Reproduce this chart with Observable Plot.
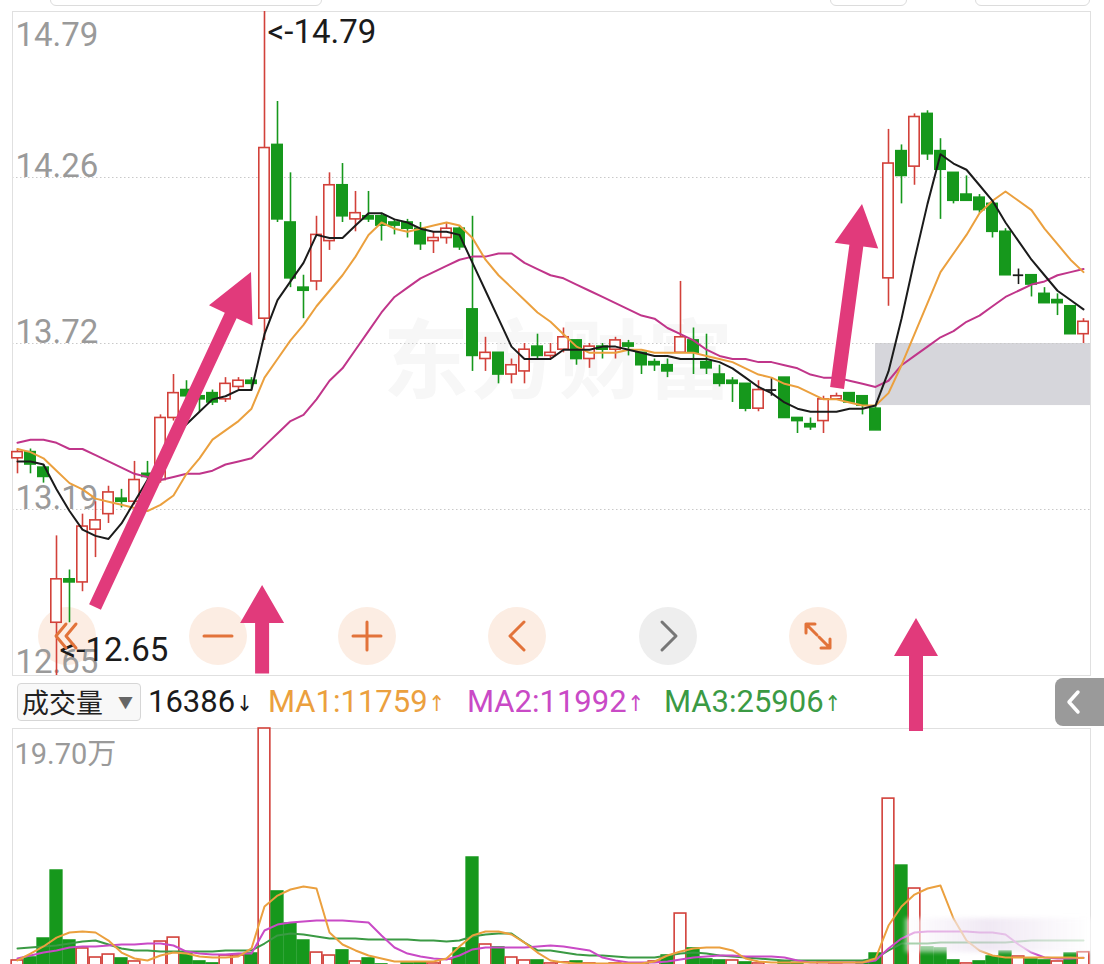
<!DOCTYPE html>
<html><head><meta charset="utf-8">
<script src="https://cdn.jsdelivr.net/npm/d3@7"></script>
<script src="https://cdn.jsdelivr.net/npm/@observablehq/plot@0.6"></script>
<style>
html,body{margin:0;padding:0;background:#fff;}
body{width:1104px;height:964px;overflow:hidden;position:relative;font-family:Roboto,"Noto Sans CJK SC",sans-serif;}
.abs{position:absolute;}
#watermark{left:383px;top:292px;font-family:"Noto Sans CJK SC";font-weight:700;font-size:86px;color:#f7f7f7;letter-spacing:2px;white-space:nowrap;z-index:0;}
#ui{left:0;top:0;z-index:1;}
#price{left:0;top:0;z-index:2;}
#volume{left:0;top:728px;z-index:2;}
#overlay{left:0;top:0;z-index:5;pointer-events:none;}
#header{left:0;top:676px;width:1104px;height:52px;z-index:3;}
.hd{position:absolute;top:7px;font-size:31px;line-height:38px;white-space:nowrap;font-family:Roboto,"Noto Sans CJK SC",sans-serif;}
.hd .ar{font-size:22px;font-family:"DejaVu Sans Condensed","DejaVu Sans";position:relative;top:-1px;margin-left:1px;}
#selbox{position:absolute;left:17px;top:7px;width:124px;height:38px;border:1px solid #d6d6d6;border-radius:4px;background:#f8f8f8;box-sizing:border-box;}
#selbox span.t{position:absolute;left:4px;top:0px;font-family:"Noto Sans CJK SC";font-size:27px;line-height:36px;color:#222;}
#selbox span.a{position:absolute;right:7px;top:1px;font-size:15px;line-height:36px;color:#666;}
#tab{position:absolute;left:1055px;top:2px;width:60px;height:48px;background:#9a9a9a;border-radius:8px;}
.topbtn{position:absolute;top:-26px;height:30px;border:1px solid #dcdcdc;border-radius:6px;background:#fff;}
#blur{left:905px;top:918px;width:186px;height:34px;z-index:4;background:linear-gradient(90deg,rgba(255,255,255,0.55),rgba(235,225,240,0.75) 45%,rgba(255,255,255,0.8));filter:blur(2px);}
</style></head>
<body>
<div class="topbtn" style="left:50px;width:270px"></div>
<div class="topbtn" style="left:830px;width:75px"></div>
<div class="topbtn" style="left:975px;width:113px"></div>
<div id="watermark" class="abs">东方财富</div>
<svg id="ui" class="abs" width="1104" height="964"></svg>
<div id="price" class="abs"></div>
<div id="header" class="abs"></div>
<div id="volume" class="abs"></div>
<div id="blur" class="abs"></div>
<svg id="overlay" class="abs" width="1104" height="964"></svg>
<script>
// ---------- data ----------
const opens = [13.35,13.37,13.32,12.82,12.96,12.95,13.12,13.17,13.22,13.21,
13.30,13.28,13.48,13.57,13.55,13.56,13.54,13.58,13.60,13.80,
14.36,14.11,13.90,13.92,14.05,14.23,14.12,14.13,14.13,14.11,
14.11,14.09,14.05,14.06,14.09,13.83,13.67,13.69,13.62,13.63,
13.71,13.68,13.70,13.73,13.67,13.71,13.70,13.72,13.69,13.66,
13.65,13.69,13.73,13.66,13.62,13.60,13.59,13.51,13.57,13.61,
13.48,13.46,13.47,13.54,13.56,13.55,13.51,13.93,14.34,14.29,
14.46,14.34,14.27,14.20,14.19,14.17,14.08,13.94,13.94,13.88,
13.86,13.84,13.75];
const highs = [13.38,13.38,13.33,13.10,12.99,13.17,13.21,13.26,13.25,13.34,
13.34,13.49,13.62,13.60,13.57,13.57,13.61,13.61,13.61,14.79,
14.50,14.27,13.94,14.13,14.27,14.30,14.21,14.21,14.14,14.12,
14.12,14.11,14.08,14.11,14.10,14.13,13.74,13.69,13.67,13.72,
13.75,13.72,13.77,13.73,13.72,13.72,13.74,13.73,13.69,13.67,
13.67,13.92,13.77,13.75,13.65,13.61,13.59,13.60,13.61,13.61,
13.48,13.48,13.55,13.56,13.56,13.55,13.52,14.41,14.36,14.46,
14.47,14.38,14.27,14.26,14.20,14.18,14.09,13.96,13.94,13.90,
13.88,13.84,13.80];
const lows = [13.30,13.30,13.27,12.65,12.82,12.92,13.03,13.14,13.19,13.20,
13.28,13.27,13.47,13.53,13.50,13.52,13.53,13.57,13.57,13.73,
14.11,13.90,13.80,13.89,14.02,14.11,14.08,14.11,14.05,14.07,
14.06,14.02,14.01,14.04,14.02,13.63,13.63,13.59,13.59,13.59,
13.67,13.67,13.69,13.65,13.64,13.67,13.67,13.68,13.62,13.63,
13.61,13.69,13.62,13.62,13.58,13.53,13.50,13.50,13.55,13.48,
13.43,13.44,13.43,13.54,13.53,13.49,13.44,13.84,14.17,14.23,
14.31,14.12,14.17,14.18,14.14,14.06,13.94,13.91,13.87,13.85,
13.81,13.75,13.72];
const closes = [13.37,13.33,13.29,12.96,12.95,13.13,13.15,13.24,13.21,13.28,
13.29,13.48,13.56,13.55,13.54,13.53,13.59,13.60,13.59,14.35,
14.12,13.93,13.89,14.07,14.23,14.13,14.14,14.12,14.10,14.10,
14.09,14.04,14.06,14.09,14.03,13.68,13.69,13.62,13.65,13.70,
13.68,13.69,13.74,13.67,13.71,13.70,13.73,13.71,13.65,13.65,
13.63,13.74,13.69,13.64,13.59,13.59,13.51,13.57,13.57,13.48,
13.47,13.45,13.54,13.55,13.53,13.52,13.44,14.30,14.26,14.45,
14.33,14.28,14.18,14.18,14.15,14.08,13.94,13.94,13.91,13.85,
13.85,13.75,13.79];
const ma5 = [13.34,13.34,13.33,13.25,13.18,13.12,13.10,13.09,13.14,13.21,
13.28,13.34,13.41,13.46,13.50,13.54,13.55,13.57,13.57,13.75,
13.86,13.92,13.98,14.07,14.06,14.06,14.10,14.14,14.14,14.12,
14.11,14.09,14.08,14.08,14.07,13.98,13.89,13.80,13.71,13.67,
13.67,13.67,13.70,13.70,13.70,13.71,13.71,13.70,13.69,13.68,
13.68,13.67,13.67,13.67,13.66,13.64,13.61,13.58,13.56,13.53,
13.51,13.50,13.50,13.50,13.51,13.51,13.52,13.63,13.80,13.99,
14.17,14.33,14.30,14.28,14.23,14.18,14.11,14.05,13.99,13.94,
13.89,13.86,13.83];
const ma10 = [13.38,13.37,13.35,13.31,13.27,13.25,13.22,13.21,13.20,13.19,
13.18,13.20,13.23,13.30,13.35,13.41,13.44,13.47,13.51,13.61,
13.67,13.73,13.78,13.84,13.89,13.94,14.00,14.07,14.11,14.09,
14.08,14.09,14.10,14.11,14.10,14.06,13.99,13.94,13.90,13.86,
13.82,13.79,13.75,13.71,13.69,13.69,13.69,13.70,13.70,13.69,
13.69,13.69,13.69,13.68,13.67,13.66,13.64,13.62,13.61,13.59,
13.58,13.56,13.54,13.54,13.53,13.52,13.52,13.56,13.65,13.75,
13.85,13.95,14.01,14.07,14.14,14.18,14.21,14.18,14.15,14.09,
14.04,13.99,13.95];
const ma20 = [13.40,13.41,13.41,13.40,13.38,13.38,13.36,13.34,13.32,13.30,
13.29,13.28,13.29,13.30,13.30,13.31,13.33,13.34,13.35,13.39,
13.43,13.47,13.49,13.54,13.60,13.64,13.70,13.76,13.82,13.87,
13.90,13.93,13.95,13.97,13.99,14.00,14.00,14.01,14.01,13.98,
13.96,13.94,13.93,13.91,13.89,13.87,13.85,13.83,13.81,13.80,
13.77,13.75,13.73,13.70,13.68,13.67,13.67,13.66,13.66,13.65,
13.64,13.62,13.61,13.61,13.60,13.59,13.58,13.60,13.65,13.68,
13.71,13.74,13.76,13.79,13.81,13.84,13.87,13.89,13.91,13.92,
13.94,13.95,13.96];
const volumes = [9700,12100,27400,82300,25800,19400,12100,14500,11300,8900,
5600,25000,28200,15300,8900,7300,13700,13700,15300,197000,
65400,39500,25800,16100,13700,17800,8900,11300,6500,5600,
7300,8100,7300,10500,19400,92800,22600,20200,12100,9700,
9700,7300,8100,8900,7300,5600,7300,6500,7300,8900,
13700,47600,19400,10500,9700,9700,8100,7300,5600,8900,
7300,5600,8100,6500,5600,8100,15300,140400,86300,67800,
20200,19400,9700,7300,8900,12900,16900,12900,10500,9700,
8900,15300,16386];
const volMA1 = [9700,15300,21000,28200,32300,33100,32300,25800,16100,11300,
9700,13700,16100,15300,12900,12100,12100,12900,19400,53300,
62100,67000,69400,67800,32300,22600,17800,13700,11300,8900,
8900,8900,8900,11300,21000,29900,33100,33100,30700,24200,
16100,9700,8100,7300,7300,7300,7300,7300,7300,8900,
13700,16900,19400,20200,20200,17800,11300,8900,8100,8100,
8100,8100,8100,8100,8100,8100,11300,37900,53300,62900,
67800,70200,43600,25800,17800,13700,12100,12100,12100,12100,
12100,12100,11759];
const volMA2 = [11300,13700,16100,17800,20200,21000,21000,21800,22600,22600,
23400,23400,21800,16900,15300,14500,14500,15300,15300,33900,
38700,40400,41200,42000,42000,42000,41200,40400,29900,20200,
15300,12900,11300,10500,13700,18600,20200,20200,20200,20200,
21000,21800,21000,19400,17800,12100,9700,8100,8100,8100,
8900,10500,12100,12900,13700,13700,12900,12900,12900,12100,
9700,8100,8100,8100,8100,8100,9700,19400,27400,32300,
33100,33100,33100,33100,32300,32300,30700,22600,16100,12100,
11300,11300,11992];
const volMA3 = [19400,20200,21000,21800,23400,25000,25800,22600,19400,17800,
17800,16900,16900,16900,16900,16900,17800,17800,17800,23400,
29900,31500,30700,29100,27400,27400,27400,26600,26600,26600,
26600,25800,25800,25000,25800,29100,30700,31500,31500,24200,
17800,17800,16100,14500,13700,13700,12900,12100,12100,12100,
13700,15300,16100,15300,13700,12900,12100,11300,10500,9700,
9700,9700,9700,9700,9700,9700,11300,17800,23400,23400,
23400,24200,24200,24200,24200,24200,24200,25000,25800,25800,
25800,25800,25906];
const priceTicks = [14.79, 14.255, 13.72, 13.185, 12.65];
const priceTickLabels = ["14.79", "14.26", "13.72", "13.19", "12.65"];
const volumeTop = 197000;
const headerArrows = ["↓", "↑", "↑", "↑"];
const gapBox = {from: 66, low: 13.52, high: 13.72};
// annotation arrows in data coordinates [index, price]
const arrows = [
  {tail: [6.0, 12.869], tip: [18.0, 13.949], w: 13, L: 48, hw: 24},
  {tail: [18.85, 12.655], tip: [18.85, 12.94], w: 14, L: 38, hw: 22},
  {tail: [63.08, 13.575], tip: [65.0, 14.168], w: 14, L: 42, hw: 22},
  {tail: [69.15, 12.47], tip: [69.15, 12.834], w: 14, L: 38, hw: 22}
];

// ---------- styles ----------
const RED = "#d2413a", GREEN = "#16981c", BLACK = "#1b1b1b";
const C_MA5 = "#1b1b1b", C_MA10 = "#eba03e", C_MA20 = "#c0358a";
const C_V1 = "#eba03e", C_V2 = "#c94ac6", C_V3 = "#3b9a44";

const N = closes.length;
const idx = d3.range(N);
const xDomain = [-5/13, (N - 1) + 7/13];
const candles = idx.map(i => ({i, o: opens[i], h: highs[i], l: lows[i], c: closes[i]}));
const colorOf = d => d.c > d.o ? RED : d.c < d.o ? GREEN : BLACK;
const maSeries = (arr) => arr.map((v, i) => ({i, v}));

const hiIdx = d3.maxIndex(highs), loIdx = d3.minIndex(lows);
const tickData = priceTicks.map((v, k) => ({v, label: priceTickLabels[k], k}));

const price = Plot.plot({
  width: 1104, height: 680,
  marginLeft: 12, marginRight: 14, marginTop: 11, marginBottom: 5,
  x: {domain: xDomain, axis: null},
  y: {domain: [priceTicks[priceTicks.length-1], priceTicks[0]], axis: null},
  color: {type: "identity"},
  style: {background: "transparent", overflow: "visible", fontFamily: "Roboto"},
  marks: [
    Plot.rect([gapBox], {x1: "from", x2: () => xDomain[1], y1: "low", y2: "high", fill: "#d6d6db"}),
    Plot.ruleY(priceTicks.slice(1, -1), {stroke: "#c9c9c9", strokeDasharray: "1.5,2.5"}),
    Plot.frame({stroke: "#e0e0e0"}),
    Plot.text(tickData.filter(d => d.k === 0), {y: "v", text: "label", frameAnchor: "left", dx: 3, dy: 11, textAnchor: "start", lineAnchor: "top", fontSize: 33, fill: "#9a9a9a"}),
    Plot.text(tickData.filter(d => d.k > 0 && d.k < priceTicks.length - 1), {y: "v", text: "label", frameAnchor: "left", dx: 3, dy: -1, textAnchor: "start", lineAnchor: "bottom", fontSize: 33, fill: "#9a9a9a"}),
    Plot.text(tickData.filter(d => d.k === priceTicks.length - 1), {y: "v", text: "label", frameAnchor: "left", dx: 3, dy: -3, textAnchor: "start", lineAnchor: "bottom", fontSize: 33, fill: "#9a9a9a"}),
    Plot.ruleX(candles, {x: "i", y1: "l", y2: "h", stroke: colorOf, strokeWidth: 1.6}),
    Plot.rect(candles.filter(d => d.o !== d.c), {x1: d => d.i - 0.4, x2: d => d.i + 0.4, y1: "o", y2: "c", fill: d => d.c > d.o ? "white" : GREEN, stroke: colorOf, strokeWidth: 1.6}),
    Plot.ruleY(candles.filter(d => d.o === d.c), {y: "o", x1: d => d.i - 0.4, x2: d => d.i + 0.4, stroke: BLACK, strokeWidth: 1.8}),
    Plot.line(maSeries(ma20), {x: "i", y: "v", stroke: C_MA20, strokeWidth: 2}),
    Plot.line(maSeries(ma10), {x: "i", y: "v", stroke: C_MA10, strokeWidth: 2}),
    Plot.line(maSeries(ma5), {x: "i", y: "v", stroke: C_MA5, strokeWidth: 2}),
    Plot.text([{i: hiIdx, v: highs[hiIdx]}], {x: "i", y: "v", text: d => "<-" + d.v.toFixed(2), textAnchor: "start", lineAnchor: "bottom", dx: 3, dy: 31, fontSize: 33, fill: "#1b1b1b"}),
    Plot.text([{i: loIdx, v: lows[loIdx]}], {x: "i", y: "v", text: d => "<-" + d.v.toFixed(2), textAnchor: "start", lineAnchor: "bottom", dx: 3, dy: -15, fontSize: 33, fill: "#1b1b1b"})
  ]
});
document.getElementById("price").appendChild(price);

// ---------- volume ----------
const volData = idx.map(i => ({i, v: volumes[i], up: i === 0 ? closes[i] >= opens[i] : closes[i] >= closes[i-1]}));
const volume = Plot.plot({
  width: 1104, height: 245,
  marginLeft: 12, marginRight: 14, marginTop: 0, marginBottom: 1,
  x: {domain: xDomain, axis: null},
  y: {domain: [0, volumeTop], axis: null},
  color: {type: "identity"},
  style: {background: "transparent", overflow: "visible", fontFamily: "Roboto"},
  marks: [
    Plot.frame({stroke: "#e0e0e0"}),
    Plot.text([volumeTop], {y: d => d, text: d => (d / 10000).toFixed(2) + "万", frameAnchor: "left", dx: 2, dy: 15, textAnchor: "start", lineAnchor: "top", fontSize: 29, fill: "#9a9a9a", fontFamily: "Roboto, 'Noto Sans CJK SC'"}),
    Plot.rect(volData, {x1: d => d.i - 0.45, x2: d => d.i + 0.45, y1: 0, y2: "v", fill: d => d.up ? "white" : GREEN, stroke: d => d.up ? RED : GREEN, strokeWidth: 1.6}),
    Plot.line(maSeries(volMA3), {x: "i", y: "v", stroke: C_V3, strokeWidth: 2}),
    Plot.line(maSeries(volMA2), {x: "i", y: "v", stroke: C_V2, strokeWidth: 2}),
    Plot.line(maSeries(volMA1), {x: "i", y: "v", stroke: C_V1, strokeWidth: 2})
  ]
});
document.getElementById("volume").appendChild(volume);

// ---------- header row ----------
const header = document.getElementById("header");
header.innerHTML = `<div id="selbox"><span class="t">成交量</span><span class="a">▼</span></div>`;
const hdItems = [
  {x: 148, label: "", value: volumes[N-1], arrow: headerArrows[0], color: "#1b1b1b"},
  {x: 268, label: "MA1:", value: volMA1[N-1], arrow: headerArrows[1], color: C_V1},
  {x: 467, label: "MA2:", value: volMA2[N-1], arrow: headerArrows[2], color: C_V2},
  {x: 664, label: "MA3:", value: volMA3[N-1], arrow: headerArrows[3], color: C_V3}
];
hdItems.forEach(h => {
  const d = document.createElement("div");
  d.className = "hd"; d.style.left = h.x + "px"; d.style.color = h.color;
  d.textContent = h.label + h.value;
  const s = document.createElement("span"); s.className = "ar"; s.textContent = h.arrow;
  d.appendChild(s);
  header.appendChild(d);
});
const tab = document.createElement("div"); tab.id = "tab";
tab.innerHTML = `<svg width="40" height="48"><path d="M23 14 L14 24 L23 34" fill="none" stroke="#fff" stroke-width="3.5" stroke-linecap="round" stroke-linejoin="round"/></svg>`;
header.appendChild(tab);

// ---------- navigation buttons (UI) ----------
const ui = d3.select("#ui");
const btnY = 636, R = 29, OR = "#e2733a";
const btns = [67, 218, 367, 517, 668, 818];
btns.forEach((bx, k) => ui.append("circle").attr("cx", bx).attr("cy", btnY).attr("r", R).attr("fill", k === 4 ? "#eeeeee" : "#fcede3"));

// ---------- annotation arrows (data coordinates through Plot scales) ----------
const sx = price.scale("x"), sy = price.scale("y");
const ov = d3.select("#overlay");
const ic = (d, c) => ov.append("path").attr("d", d).attr("fill", "none").attr("stroke", c).attr("stroke-width", 3).attr("stroke-linecap", "round").attr("stroke-linejoin", "round");
ic(`M66 624 L56 636 L66 648 M76 624 L66 636 L76 648`, OR);
ic(`M204 636 L232 636`, OR);
ic(`M353 636 L381 636 M367 622 L367 650`, OR);
ic(`M524 622 L510 636 L524 650`, OR);
ic(`M662 622 L676 636 L662 650`, "#777");
ic(`M806 624 L817 635 M806 624 L806 633 M806 624 L815 624 M830 648 L819 637 M830 648 L830 639 M830 648 L821 648`, OR);
arrows.forEach(a => {
  const T = [sx.apply(a.tail[0]), sy.apply(a.tail[1])];
  const P = [sx.apply(a.tip[0]), sy.apply(a.tip[1])];
  const dx = P[0] - T[0], dy = P[1] - T[1], len = Math.hypot(dx, dy);
  const u = [dx / len, dy / len], n = [-u[1], u[0]];
  const B = [P[0] - a.L * u[0], P[1] - a.L * u[1]];
  const hw = a.w / 2;
  const pts = [
    [T[0] + n[0]*hw, T[1] + n[1]*hw], [B[0] + n[0]*hw, B[1] + n[1]*hw],
    [B[0] + n[0]*a.hw, B[1] + n[1]*a.hw], P,
    [B[0] - n[0]*a.hw, B[1] - n[1]*a.hw], [B[0] - n[0]*hw, B[1] - n[1]*hw],
    [T[0] - n[0]*hw, T[1] - n[1]*hw]
  ];
  ov.append("path").attr("d", "M" + pts.map(p => p[0].toFixed(1) + "," + p[1].toFixed(1)).join("L") + "Z").attr("fill", "#e13a7b");
});
</script>
</body></html>
